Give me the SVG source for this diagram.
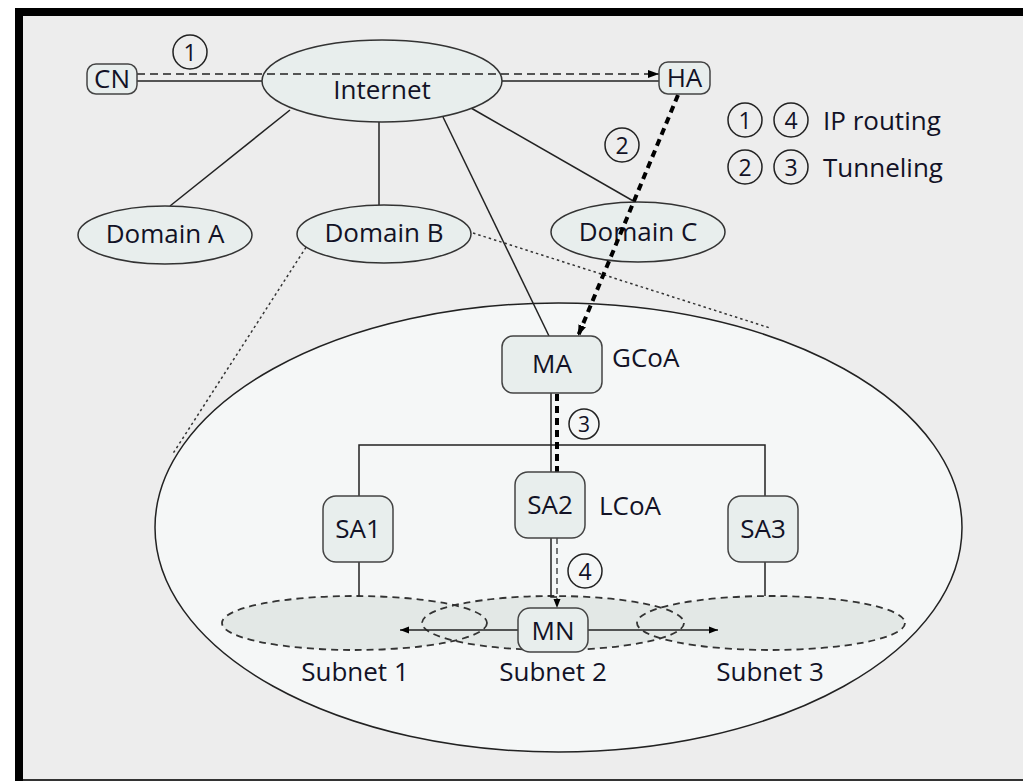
<svg xmlns="http://www.w3.org/2000/svg" width="1023" height="781" viewBox="0 0 1023 781">
<defs>
<style>
text{font-family:"Open Sans","Liberation Sans",sans-serif;fill:#121226;}
.lbl{font-size:26px;}
.mid{text-anchor:middle;}
.num{font-size:23px;text-anchor:middle;}
.node{fill:#e8eeed;stroke:#444;stroke-width:1.5;}
.cloud{fill:#e8eeed;stroke:#333;stroke-width:1.5;}
.circ{fill:none;stroke:#222;stroke-width:1.5;}
.solid{stroke:#222;stroke-width:1.5;fill:none;}
.dash{stroke:#222;stroke-width:1.5;stroke-dasharray:8 5;fill:none;}
.dot{stroke:#333;stroke-width:1.5;stroke-dasharray:2.5 3;fill:none;}
.thick{stroke:#000;stroke-width:4;stroke-dasharray:7 5;fill:none;}
.subfill{fill:#e3e8e6;stroke:none;}
.subline{fill:none;stroke:#333;stroke-width:1.8;stroke-dasharray:7 5;}
</style>
<marker id="ah" markerWidth="12" markerHeight="10" refX="11" refY="5" orient="auto" markerUnits="userSpaceOnUse">
<path d="M0,1 L11,5 L0,9 Z" fill="#000"/>
</marker>
<marker id="ahs" markerWidth="10" markerHeight="8" refX="9" refY="4" orient="auto" markerUnits="userSpaceOnUse">
<path d="M0,0.5 L9,4 L0,7.5 Z" fill="#000"/>
</marker>
</defs>
<rect x="15" y="8" width="1008" height="773" fill="#000"/>
<rect x="23" y="16" width="1000" height="763" fill="#ededed"/>
<rect x="23" y="779" width="1000" height="2" fill="#333"/>

<g id="region">
<ellipse cx="558.5" cy="527.5" rx="403.5" ry="224.5" fill="#f5f7f7" stroke="#222" stroke-width="1.5"/>
</g>

<g id="subnets">
<ellipse class="subfill" cx="354.5" cy="623" rx="132.5" ry="27"/>
<ellipse class="subfill" cx="553" cy="623" rx="131" ry="27"/>
<ellipse class="subfill" cx="771" cy="623" rx="134" ry="27"/>
<ellipse id="subnet1" class="subline" cx="354.5" cy="623" rx="132.5" ry="27"/>
<ellipse id="subnet2" class="subline" cx="553" cy="623" rx="131" ry="27"/>
<ellipse id="subnet3" class="subline" cx="771" cy="623" rx="134" ry="27"/>
</g>

<g id="connectors">
<line class="solid" x1="137" y1="81" x2="263" y2="81"/>
<line class="solid" x1="501" y1="81" x2="659" y2="81"/>
<line class="solid" x1="290" y1="110" x2="170" y2="206"/>
<line class="solid" x1="379" y1="122" x2="379" y2="205"/>
<line class="solid" x1="471" y1="108" x2="635" y2="202"/>
<line class="solid" x1="443" y1="117" x2="549" y2="336"/>
<line class="dot" x1="473" y1="233" x2="770" y2="328"/>
<line class="dot" x1="312" y1="238" x2="172" y2="455"/>
<line class="solid" x1="551" y1="393" x2="551" y2="472"/>
<polyline class="solid" points="359,496 359,445 765,445 765,496"/>
<line class="solid" x1="359" y1="562" x2="359" y2="596"/>
<line class="solid" x1="765" y1="562" x2="765" y2="596"/>
<polyline class="solid" points="551,538 551,597 557,597"/>
<line class="solid" x1="518" y1="630" x2="400" y2="630" marker-end="url(#ahs)"/>
<line class="solid" x1="588" y1="630" x2="718" y2="630" marker-end="url(#ahs)"/>
<line stroke="#222" stroke-width="1.2" stroke-dasharray="6 4" x1="557" y1="538" x2="557" y2="608" marker-end="url(#ahs)"/>
<line class="thick" x1="557" y1="394" x2="557" y2="472"/>
</g>

<g id="internet">
<ellipse class="cloud" cx="382" cy="81" rx="120" ry="41"/>
<text class="lbl mid" x="382" y="99">Internet</text>
</g>
<g id="domainA">
<ellipse class="cloud" cx="165" cy="235" rx="87" ry="29"/>
<text class="lbl mid" x="165" y="243">Domain A</text>
</g>
<g id="domainB">
<ellipse class="cloud" cx="384" cy="234" rx="87" ry="29"/>
<text class="lbl mid" x="384" y="242">Domain B</text>
</g>
<g id="domainC">
<ellipse class="cloud" cx="638" cy="232" rx="87" ry="30"/>
<text class="lbl mid" x="638" y="241">Domain C</text>
</g>

<g id="flow1">
<line class="dash" x1="137" y1="74" x2="659" y2="74" marker-end="url(#ah)"/>
<circle class="circ" cx="190" cy="52" r="17"/>
<text class="num" x="190" y="61">1</text>
</g>
<g id="flow2">
<line class="thick" x1="678" y1="95" x2="578" y2="336" marker-end="url(#ah)"/>
<circle class="circ" cx="622" cy="145" r="17"/>
<text class="num" x="622" y="154">2</text>
</g>

<g id="CN">
<rect class="node" x="87" y="64" width="50" height="30" rx="9"/>
<text class="lbl mid" x="112" y="88">CN</text>
</g>
<g id="HA">
<rect class="node" x="659" y="62" width="51" height="32" rx="9"/>
<text class="lbl mid" x="684.5" y="87">HA</text>
</g>

<g id="legend">
<circle class="circ" cx="745" cy="120" r="17"/>
<text class="num" x="745" y="129">1</text>
<circle class="circ" cx="791" cy="120" r="17"/>
<text class="num" x="791" y="129">4</text>
<text class="lbl" x="823" y="130">IP routing</text>
<circle class="circ" cx="745" cy="167" r="17"/>
<text class="num" x="745" y="176">2</text>
<circle class="circ" cx="791" cy="167" r="17"/>
<text class="num" x="791" y="176">3</text>
<text class="lbl" x="823" y="177">Tunneling</text>
</g>

<g id="MA">
<rect class="node" x="502" y="336" width="100" height="57" rx="11"/>
<text class="lbl mid" x="552" y="373">MA</text>
<text class="lbl" x="612" y="367">GCoA</text>
</g>
<g id="flow3">
<circle class="circ" cx="584" cy="424" r="15"/>
<text class="num" x="584" y="432" style="font-size:21px">3</text>
</g>
<g id="SA1">
<rect class="node" x="323" y="496" width="70" height="66" rx="13"/>
<text class="lbl mid" x="358" y="538">SA1</text>
</g>
<g id="SA2">
<rect class="node" x="515" y="472" width="70" height="66" rx="13"/>
<text class="lbl mid" x="550" y="514">SA2</text>
<text class="lbl" x="599" y="515">LCoA</text>
</g>
<g id="SA3">
<rect class="node" x="728" y="496" width="70" height="66" rx="13"/>
<text class="lbl mid" x="763" y="538">SA3</text>
</g>
<g id="flow4">
<circle class="circ" cx="585" cy="571" r="17"/>
<text class="num" x="585" y="580">4</text>
</g>
<g id="MN">
<rect class="node" x="518" y="608" width="70" height="44" rx="12"/>
<text class="lbl mid" x="553" y="640">MN</text>
</g>
<g id="subnet-labels">
<text class="lbl mid" x="355" y="681">Subnet 1</text>
<text class="lbl mid" x="553" y="681">Subnet 2</text>
<text class="lbl mid" x="770" y="681">Subnet 3</text>
</g>
</svg>
